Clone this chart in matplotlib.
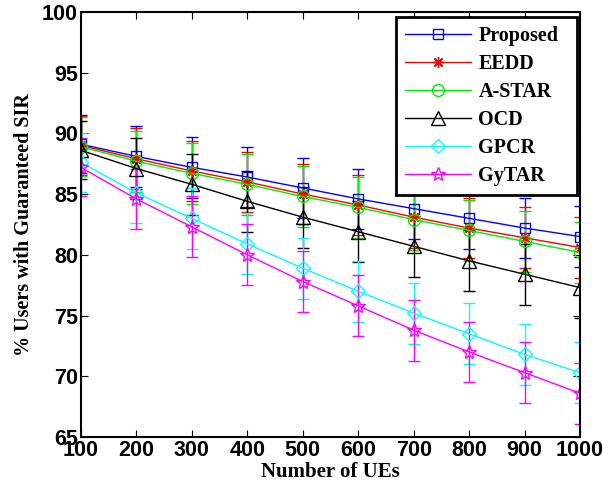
import matplotlib.pyplot as plt
import numpy as np

# data
num_ues = [100, 200, 300, 400, 500, 600, 700, 800, 900, 1000]

proposed = [89.1, 88.1, 87.2, 86.4, 85.5, 84.6, 83.8, 83.0, 82.2, 81.5]
eedd = [89.0, 87.9, 86.9, 86.0, 85.0, 84.1, 83.1, 82.2, 81.4, 80.6]
astar = [88.9, 87.7, 86.7, 85.8, 84.8, 83.9, 82.9, 82.0, 81.1, 80.2]
ocd = [88.6, 87.1, 85.8, 84.4, 83.1, 81.9, 80.7, 79.5, 78.4, 77.3]
gpcr = [87.6, 85.1, 83.0, 80.9, 78.9, 77.0, 75.2, 73.5, 71.8, 70.3]
gytar = [87.2, 84.6, 82.3, 80.0, 77.8, 75.8, 73.8, 72.0, 70.3, 68.6]

err_proposed = [2.4, 2.5, 2.5, 2.5, 2.5, 2.5, 2.5, 2.5, 2.5, 2.5]
err_eedd = [2.4, 2.5, 2.5, 2.5, 2.5, 2.5, 2.5, 2.5, 2.5, 2.5]
err_astar = [2.4, 2.5, 2.5, 2.5, 2.5, 2.5, 2.5, 2.5, 2.5, 2.5]
err_ocd = [2.4, 2.5, 2.5, 2.5, 2.5, 2.5, 2.5, 2.5, 2.5, 2.5]
err_gpcr = [2.4, 2.5, 2.5, 2.5, 2.5, 2.5, 2.5, 2.5, 2.5, 2.5]
err_gytar = [2.4, 2.5, 2.5, 2.5, 2.5, 2.5, 2.5, 2.5, 2.5, 2.5]

series = [
    ('Proposed', proposed, err_proposed, 'blue', 's', 7),
    ('EEDD', eedd, err_eedd, 'red', (8, 2, 0), 8),
    ('A-STAR', astar, err_astar, '#00ee00', 'o', 8.5),
    ('OCD', ocd, err_ocd, 'black', '^', 9.5),
    ('GPCR', gpcr, err_gpcr, 'cyan', 'D', 7),
    ('GyTAR', gytar, err_gytar, 'magenta', '*', 10),
]

fig = plt.figure(figsize=(6.03, 4.90), dpi=100)
ax = fig.add_axes([0.134, 0.108, 0.828, 0.868])

for name, vals, err, color, marker, ms in series:
    ax.errorbar(num_ues, vals, yerr=err, color=color, ecolor=color,
                elinewidth=1.0, capsize=4.5, capthick=1.0, linewidth=1.0,
                marker=marker, markersize=ms, markerfacecolor='none',
                markeredgecolor=color, markeredgewidth=1.0, label=name)

ax.set_xlim(100, 1000)
ax.set_ylim(65, 100)
ax.set_xticks(num_ues)
ax.set_yticks([65, 70, 75, 80, 85, 90, 95, 100])
ax.tick_params(direction='in', top=True, right=True, length=5, width=0.8,
               labelsize=15.5, pad=2)
for lab in ax.get_xticklabels() + ax.get_yticklabels():
    lab.set_fontfamily('Liberation Sans')
    lab.set_fontweight('bold')
for sp in ax.spines.values():
    sp.set_linewidth(1.5)

ax.set_xlabel('Number of UEs', fontfamily='Liberation Serif', fontsize=15,
              fontweight='bold', labelpad=1)
ax.set_ylabel('% Users with Guaranteed SIR', fontfamily='Liberation Serif',
              fontsize=14.5, fontweight='bold', labelpad=6)

handles, labels = ax.get_legend_handles_labels()
handles = [h[0] for h in handles]
leg = ax.legend(handles, labels, loc='upper left',
                bbox_to_anchor=(0.631, 0.4, 0.363, 0.588), mode='expand',
                fancybox=False, framealpha=1, edgecolor='black',
                handlelength=3.3, labelspacing=0.4, borderaxespad=0,
                borderpad=0.45, handletextpad=0.35,
                prop={'family': 'Liberation Serif', 'weight': 'bold', 'size': 14.5})
leg.get_frame().set_linewidth(2.0)

fig.savefig('out.png', dpi=100)
